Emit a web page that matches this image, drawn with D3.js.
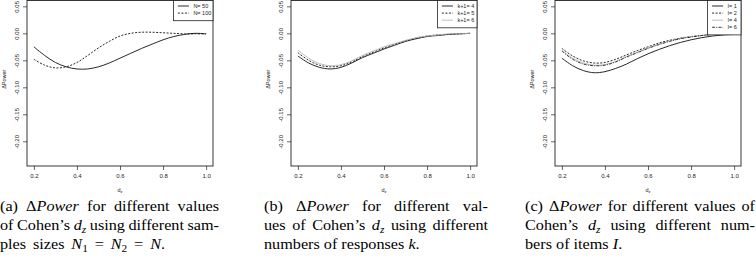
<!DOCTYPE html>
<html>
<head>
<meta charset="utf-8">
<script src="https://cdn.jsdelivr.net/npm/d3@7/dist/d3.min.js"></script>
<style>
  body { margin: 0; background: #fff; }
  svg { display: block; }
</style>
</head>
<body>
<svg id="fig" width="756" height="264"></svg>
<script>
// effect size grid (Cohen's d_z)
const dz = [0.2, 0.25, 0.3, 0.35, 0.4, 0.45, 0.5, 0.55, 0.6, 0.65, 0.7, 0.75, 0.8, 0.85, 0.9, 0.95, 1.0];

// (a) sample sizes
const powN50  = [-0.025, -0.041, -0.054, -0.062, -0.066, -0.066, -0.062, -0.055, -0.046, -0.037, -0.028, -0.020, -0.012, -0.006, -0.002, 0.000, -0.001];
const powN100 = [-0.048, -0.059, -0.064, -0.062, -0.054, -0.041, -0.027, -0.015, -0.005, 0.000, 0.002, 0.002, 0.001, 0.000, -0.001, -0.001, -0.001];

// (b) number of responses
const powK4 = [-0.042, -0.055, -0.063, -0.066, -0.063, -0.055, -0.045, -0.037, -0.029, -0.022, -0.015, -0.010, -0.006, -0.004, -0.002, -0.001, 0.000];
const powK5 = [-0.036, -0.050, -0.059, -0.062, -0.060, -0.053, -0.043, -0.035, -0.027, -0.020, -0.014, -0.009, -0.005, -0.003, -0.002, -0.001, 0.000];
const powK6 = [-0.031, -0.046, -0.056, -0.060, -0.058, -0.051, -0.041, -0.033, -0.025, -0.019, -0.013, -0.008, -0.005, -0.003, -0.001, -0.001, 0.000];

// (c) number of items
const powI1 = [-0.046, -0.060, -0.069, -0.073, -0.071, -0.065, -0.057, -0.047, -0.038, -0.030, -0.023, -0.017, -0.012, -0.008, -0.005, -0.003, -0.002];
const powI2 = [-0.028, -0.042, -0.051, -0.055, -0.054, -0.048, -0.040, -0.032, -0.025, -0.018, -0.013, -0.009, -0.006, -0.004, -0.002, -0.001, 0.000];
const powI4 = [-0.031, -0.046, -0.055, -0.059, -0.058, -0.052, -0.043, -0.035, -0.027, -0.020, -0.014, -0.010, -0.006, -0.004, -0.002, -0.001, 0.000];
const powI6 = [-0.033, -0.048, -0.057, -0.060, -0.059, -0.053, -0.044, -0.036, -0.028, -0.021, -0.015, -0.010, -0.007, -0.004, -0.002, -0.001, 0.000];

const xTicks = [0.2, 0.4, 0.6, 0.8, 1.0];
const yTicks = [0.05, 0.00, -0.05, -0.10, -0.15, -0.20];

const legendA = ["N= 50", "N= 100"];
const legendB = ["k+1= 4", "k+1= 5", "k+1= 6"];
const legendC = ["I= 1", "I= 2", "I= 4", "I= 6"];

// caption lines: [text, style] pieces; style: "" roman, "i" italic, "s" italic subscript, "n" roman subscript
const captionA = [
  [["(a) Δ", ""], ["Power", "i"], [" for different values", ""]],
  [["of Cohen’s ", ""], ["d", "i"], ["z", "s"], [" using different sam-", ""]],
  [["ples sizes ", ""], ["N", "i"], ["1", "n"], [" = ", ""], ["N", "i"], ["2", "n"], [" = ", ""], ["N", "i"], [".", ""]]
];
const captionB = [
  [["(b) Δ", ""], ["Power", "i"], [" for different val-", ""]],
  [["ues of Cohen’s ", ""], ["d", "i"], ["z", "s"], [" using different", ""]],
  [["numbers of responses ", ""], ["k", "i"], [".", ""]]
];
const captionC = [
  [["(c) Δ", ""], ["Power", "i"], [" for different values of", ""]],
  [["Cohen’s ", ""], ["d", "i"], ["z", "s"], [" using different num-", ""]],
  [["bers of items ", ""], ["I", "i"], [".", ""]]
];

// line styles
const sSolid = { color: "#111", dash: null };
const sDash  = { color: "#111", dash: "2,1.5" };
const sGray  = { color: "#b4b4b4", dash: null };
const sDotDash = { color: "#222", dash: "3,1.2,1,1.2" };

const panels = [
  { left: 27, labels: legendA, series: [powN50, powN100], styles: [sSolid, sDash],
    caption: captionA, capX: 0, capW: 219, lastW: 165 },
  { left: 291, labels: legendB, series: [powK4, powK5, powK6], styles: [sSolid, sDash, sGray],
    caption: captionB, capX: 264, capW: 224, lastW: null },
  { left: 555, labels: legendC, series: [powI1, powI2, powI4, powI6], styles: [sSolid, sDash, sGray, sDotDash],
    caption: captionC, capX: 525, capW: 230, lastW: null }
];

const svg = d3.select("#fig");
const boxW = 186, boxTop = 0.5, boxBottom = 166;
const sans = "'Liberation Sans', Arial, sans-serif";
const serif = "'Liberation Serif', 'DejaVu Serif', serif";
const capScale = 1.08;   // widen Times-like glyphs towards Computer Modern proportions

panels.forEach(p => {
  const x = d3.scaleLinear().domain([0.168, 1.032]).range([p.left, p.left + boxW]);
  const y = d3.scaleLinear().domain([-0.2457, 0.0617]).range([boxBottom, 0]);
  const g = svg.append("g");

  // curves
  const line = d3.line().x((d, i) => x(dz[i])).y(d => y(d)).curve(d3.curveCatmullRom);
  p.series.forEach((vals, i) => {
    g.append("path")
      .datum(vals)
      .attr("d", line)
      .attr("fill", "none")
      .attr("stroke", p.styles[i].color)
      .attr("stroke-width", 0.9)
      .attr("stroke-dasharray", p.styles[i].dash);
  });

  // axes
  const ax = g.append("g")
    .attr("transform", `translate(0,${boxBottom})`)
    .call(d3.axisBottom(x).tickValues(xTicks).tickSize(4).tickSizeOuter(0).tickFormat(d => d.toFixed(1)));
  const ay = g.append("g")
    .attr("transform", `translate(${p.left},0)`)
    .call(d3.axisLeft(y).tickValues(yTicks).tickSize(4).tickSizeOuter(0).tickFormat(d => d.toFixed(2)));
  [ax, ay].forEach(a => {
    a.select(".domain").remove();
    a.selectAll("line").attr("stroke", "#222").attr("stroke-width", 0.7);
    a.selectAll("text").attr("fill", "#222").style("font-family", sans).style("font-size", "6px");
  });
  ax.selectAll("text").attr("y", 8).attr("dy", "0.71em");
  ay.selectAll("text")
    .attr("transform", "rotate(-90)")
    .attr("x", 0).attr("y", -8).attr("dy", 0)
    .attr("text-anchor", "middle");

  // box
  g.append("rect")
    .attr("x", p.left).attr("y", boxTop)
    .attr("width", boxW).attr("height", boxBottom - boxTop)
    .attr("fill", "none").attr("stroke", "#222").attr("stroke-width", 0.9);

  // axis titles
  g.append("text")
    .attr("transform", `translate(${p.left - 21},${y(-0.085)}) rotate(-90)`)
    .attr("text-anchor", "middle")
    .style("font-family", sans).style("font-size", "5.5px").attr("fill", "#222")
    .text("ΔPower");
  const xl = g.append("text")
    .attr("x", p.left + boxW / 2).attr("y", 192)
    .attr("text-anchor", "middle")
    .style("font-family", sans).style("font-size", "5.5px").attr("fill", "#222");
  xl.append("tspan").text("d");
  xl.append("tspan").attr("dy", 1.2).style("font-size", "4px").text("z");

  // legend
  const n = p.labels.length;
  const lw = p.labels.reduce((m, s) => Math.max(m, s.length), 0) * 3.1 + 21;
  const lx = p.left + boxW - lw;
  const lg = g.append("g");
  lg.append("rect")
    .attr("x", lx).attr("y", boxTop)
    .attr("width", lw).attr("height", 6 + n * 7.1)
    .attr("fill", "#fff").attr("stroke", "#222").attr("stroke-width", 0.8);
  p.labels.forEach((lab, i) => {
    const ly = 6 + i * 7.1;
    lg.append("line")
      .attr("x1", lx + 4.5).attr("x2", lx + 15.5)
      .attr("y1", ly).attr("y2", ly)
      .attr("stroke", p.styles[i].color).attr("stroke-width", 0.9)
      .attr("stroke-dasharray", p.styles[i].dash);
    lg.append("text")
      .attr("x", lx + 20).attr("y", ly).attr("dy", "0.35em")
      .style("font-family", sans).style("font-size", "5.5px").attr("fill", "#222")
      .text(lab);
  });

  // caption
  p.caption.forEach((pieces, li) => {
    const t = svg.append("g")
      .attr("transform", `translate(${p.capX},${211 + li * 19}) scale(${capScale},1)`)
      .append("text")
      .style("font-family", serif).style("font-size", "15px").attr("fill", "#000");
    let prevSub = false;
    pieces.forEach(([txt, st]) => {
      const ts = t.append("tspan").text(txt);
      const sub = st === "s" || st === "n";
      if (st === "i" || st === "s") ts.style("font-style", "italic");
      if (sub) ts.style("font-size", "10.5px").attr("dy", 2.5);
      else if (prevSub) ts.attr("dy", -2.5);
      prevSub = sub;
    });
    const last = li === p.caption.length - 1;
    const target = last ? p.lastW : p.capW;
    if (target) {
      const natural = t.node().getComputedTextLength();
      const spaces = pieces.map(q => q[0]).join("").split(" ").length - 1;
      if (spaces > 0) t.attr("word-spacing", (target / capScale - natural) / spaces);
    }
  });
});
</script>
</body>
</html>
